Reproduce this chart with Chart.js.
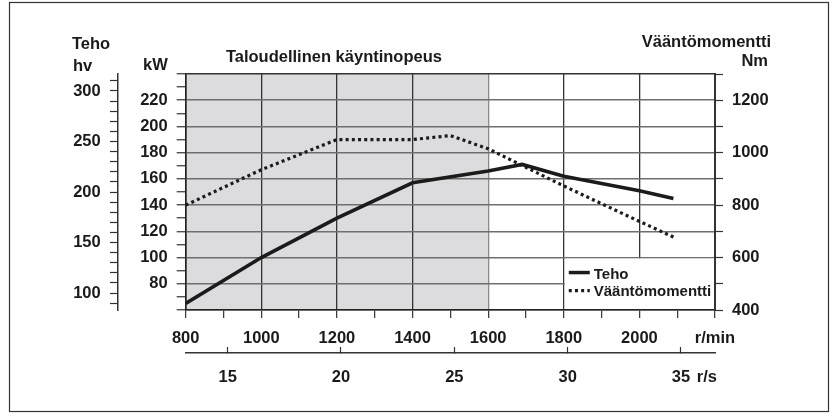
<!DOCTYPE html>
<html lang="fi">
<head>
<meta charset="UTF-8">
<title>Teho ja vääntömomentti</title>
<script src="https://cdn.jsdelivr.net/npm/chart.js"></script>
<style>
  body { margin: 0; background: #fff; }
  #wrap { position: relative; width: 838px; height: 416px; }
</style>
</head>
<body>
<div id="wrap"><canvas id="engineChart" width="838" height="416"></canvas></div>
<script>
// Teho (kW) kierrosluvun (r/min) funktiona
const tehoRpm = [800, 1000, 1200, 1400, 1600, 1690, 1800, 2000, 2090];
const tehoKw = [65, 100, 130, 157, 166, 171, 162, 151, 145];

// Vääntömomentti (Nm)
const momenttiRpm = [800, 1000, 1200, 1400, 1500, 1600, 1800, 2000, 2095];
const momenttiNm = [800, 935, 1050, 1050, 1065, 1015, 873, 738, 675];

// akselien merkinnät
const rpmLabels = [800, 1000, 1200, 1400, 1600, 1800, 2000];
const rsLabels = [15, 20, 25, 30, 35];
const kwLabels = [80, 100, 120, 140, 160, 180, 200, 220];
const hvLabels = [100, 150, 200, 250, 300];
const nmLabels = [400, 600, 800, 1000, 1200];
const economyRange = [800, 1600]; // taloudellinen käyntinopeus

// pienet väliviivat
function steps(from, to, step) {
    const out = [];
    for (let v = from; v <= to; v += step) out.push(v);
    return out;
}
const rpmTicks = steps(800, 2200, 100);
const kwTicks = steps(60, 240, 10);
const hvTicks = steps(90, 310, 10);
const nmTicks = steps(400, 1300, 100);

const setTicks = list => scale => { scale.ticks = list.map(v => ({ value: v })); };

Chart.defaults.font.family = "'Liberation Sans', Arial, sans-serif";
Chart.defaults.font.size = 16.5;
Chart.defaults.font.weight = 'bold';
Chart.defaults.color = '#1a1a1a';

// harmaa alue, otsikot, selite ja kehys
const decorPlugin = {
    id: 'decor',
    beforeDraw(chart) {
        const { ctx, chartArea, scales } = chart;
        const x0 = scales.x.getPixelForValue(economyRange[0]);
        const x1 = scales.x.getPixelForValue(economyRange[1]);
        ctx.save();
        ctx.fillStyle = '#dcdcde';
        ctx.fillRect(x0, chartArea.top, x1 - x0, chartArea.bottom - chartArea.top);
        ctx.restore();
    },
    afterDraw(chart) {
        const { ctx, chartArea, scales } = chart;
        ctx.save();

        // selite
        const lx = scales.x.getPixelForValue(1800);
        const ly = scales.nm.getPixelForValue(600);
        ctx.fillStyle = '#fff';
        ctx.fillRect(lx + 1, ly + 1, chartArea.right - lx - 2, chartArea.bottom - ly - 2);
        ctx.strokeStyle = '#1b1b1b';
        ctx.lineWidth = 3.5;
        ctx.beginPath();
        ctx.moveTo(lx + 5, ly + 15);
        ctx.lineTo(lx + 26, ly + 15);
        ctx.stroke();
        ctx.lineWidth = 3.2;
        ctx.setLineDash([3, 3.2]);
        ctx.beginPath();
        ctx.moveTo(lx + 5, ly + 33);
        ctx.lineTo(lx + 26, ly + 33);
        ctx.stroke();
        ctx.setLineDash([]);
        ctx.fillStyle = '#1a1a1a';
        ctx.font = "bold 15px 'Liberation Sans', Arial, sans-serif";
        ctx.textBaseline = 'middle';
        ctx.textAlign = 'left';
        ctx.fillText('Teho', lx + 30, ly + 17);
        ctx.fillText('Vääntömomentti', lx + 30, ly + 34);

        // akseleiden otsikot
        ctx.font = "bold 16.5px 'Liberation Sans', Arial, sans-serif";
        ctx.fillText('Teho', 72, 44);
        ctx.fillText('hv', 73, 66);
        ctx.textAlign = 'right';
        ctx.fillText('kW', chartArea.left - 18, 65);
        ctx.fillText('Vääntömomentti', 771, 42);
        ctx.fillText('Nm', 768, 61);
        ctx.fillText('r/s', chartArea.right + 2, 377);
        ctx.textAlign = 'center';
        const x0 = scales.x.getPixelForValue(economyRange[0]);
        const x1 = scales.x.getPixelForValue(economyRange[1]);
        ctx.fillText('Taloudellinen käyntinopeus', (x0 + x1) / 2 - 3, 57);

        // kehys
        ctx.strokeStyle = '#333';
        ctx.lineWidth = 1.2;
        ctx.strokeRect(9.5, 2.5, 819, 409);
        ctx.restore();
    }
};

const ctx = document.getElementById('engineChart').getContext('2d');
new Chart(ctx, {
    type: 'line',
    data: {
        datasets: [
            {
                label: 'Teho',
                data: tehoRpm.map((r, i) => ({ x: r, y: tehoKw[i] })),
                xAxisID: 'x',
                yAxisID: 'y',
                borderColor: '#1b1b1b',
                borderWidth: 3.6,
                pointRadius: 0,
                tension: 0,
                fill: false
            },
            {
                label: 'Vääntömomentti',
                data: momenttiRpm.map((r, i) => ({ x: r, y: momenttiNm[i] })),
                xAxisID: 'x',
                yAxisID: 'nm',
                borderColor: '#1b1b1b',
                borderWidth: 3.2,
                borderDash: [3, 3.2],
                borderCapStyle: 'butt',
                pointRadius: 0,
                tension: 0,
                fill: false
            }
        ]
    },
    options: {
        responsive: false,
        animation: false,
        events: [],
        layout: { padding: { top: 74, left: 0, right: 0, bottom: 0 } },
        plugins: {
            legend: { display: false },
            tooltip: { enabled: false }
        },
        scales: {
            x: {
                type: 'linear',
                position: 'bottom',
                weight: 0,
                min: 800,
                max: 2200,
                afterBuildTicks: setTicks(rpmTicks),
                afterFit: s => { s.height = 43; },
                grid: {
                    color: c => {
                        const v = c.tick && c.tick.value;
                        if (v === 1600) return '#8a8a8a';
                        return v % 200 === 0 ? '#333' : 'rgba(0,0,0,0)';
                    },
                    lineWidth: 1.3,
                    tickLength: 8,
                    tickColor: '#333',
                    tickWidth: 1.2
                },
                border: { color: '#222', width: 1.6 },
                ticks: {
                    autoSkip: false,
                    maxRotation: 0,
                    padding: 10.5,
                    callback: v => rpmLabels.includes(v) ? v : (v === 2200 ? 'r/min' : '')
                }
            },
            rs: {
                type: 'linear',
                position: 'bottom',
                weight: 1,
                min: 13.15,
                max: 36.5,
                afterBuildTicks: setTicks(rsLabels),
                afterFit: s => { s.height = 63; },
                grid: {
                    drawOnChartArea: false,
                    tickLength: -6,
                    tickColor: '#333',
                    tickWidth: 1.2
                },
                border: { color: '#333', width: 1.5 },
                ticks: {
                    autoSkip: false,
                    maxRotation: 0,
                    padding: 21,
                    callback: v => rsLabels.includes(v) ? v : ''
                }
            },
            y: {
                type: 'linear',
                position: 'left',
                weight: 0,
                min: 60,
                max: 240,
                afterBuildTicks: setTicks(kwTicks),
                afterFit: s => { s.width = 67.7; },
                grid: {
                    color: c => {
                        const v = c.tick && c.tick.value;
                        if (v === 240) return '#333';
                        return v % 20 === 0 ? '#6e6e6e' : 'rgba(0,0,0,0)';
                    },
                    lineWidth: 1.5,
                    tickLength: 9,
                    tickColor: '#333',
                    tickWidth: 1.2
                },
                border: { color: '#222', width: 1.6 },
                ticks: {
                    autoSkip: false,
                    padding: 9,
                    callback: v => kwLabels.includes(v) ? v : ''
                }
            },
            hv: {
                type: 'linear',
                position: 'left',
                weight: 1,
                min: 83.2,
                max: 316.8,
                afterBuildTicks: setTicks(hvTicks),
                afterFit: s => { s.width = 118; },
                grid: {
                    drawOnChartArea: false,
                    tickLength: 8,
                    tickColor: '#333',
                    tickWidth: 1.2
                },
                border: { color: '#333', width: 1.5 },
                ticks: {
                    autoSkip: false,
                    padding: 9.3,
                    callback: v => hvLabels.includes(v) ? v : ''
                }
            },
            nm: {
                type: 'linear',
                position: 'right',
                min: 400,
                max: 1300,
                afterBuildTicks: setTicks(nmTicks),
                afterFit: s => { s.width = 123; },
                grid: {
                    drawOnChartArea: false,
                    tickLength: 8,
                    tickColor: '#333',
                    tickWidth: 1.2
                },
                border: { color: '#333', width: 2 },
                ticks: {
                    autoSkip: false,
                    padding: 9,
                    callback: v => nmLabels.includes(v) ? v : ''
                }
            }
        }
    },
    plugins: [decorPlugin]
});
</script>
</body>
</html>
